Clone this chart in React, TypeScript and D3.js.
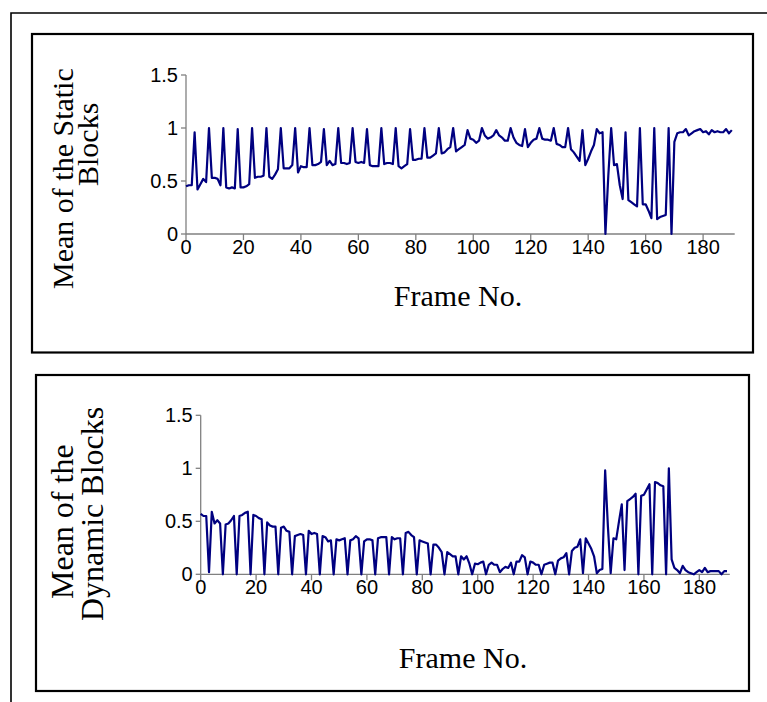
import React from "react";
import * as d3 from "d3";

const staticBlocks: number[] = [
  0.45, 0.46, 0.46, 0.96, 0.42, 0.47, 0.52, 0.49, 1.0,
  0.53, 0.53, 0.52, 0.46, 1.0,
  0.44, 0.43, 0.44, 0.43, 0.99,
  0.44, 0.44, 0.45, 0.47, 1.0,
  0.53, 0.54, 0.54, 0.55, 1.0,
  0.54, 0.52, 0.56, 0.61, 1.0,
  0.62, 0.62, 0.62, 0.65, 1.0,
  0.58, 0.64, 0.63, 0.63, 1.0,
  0.65, 0.65, 0.66, 0.68, 0.99,
  0.65, 0.69, 0.65, 0.66, 1.0,
  0.67, 0.67, 0.66, 0.67, 1.0,
  0.68, 0.67, 0.68, 0.67, 0.99,
  0.65, 0.64, 0.64, 0.64, 1.0,
  0.66, 0.67, 0.67, 0.66, 1.0,
  0.64, 0.62, 0.64, 0.66, 0.99,
  0.70, 0.70, 0.71, 0.71, 1.0,
  0.72, 0.72, 0.74, 0.76, 1.0,
  0.76, 0.77, 0.80, 0.82, 1.0,
  0.78, 0.80, 0.82, 0.84, 0.98,
  0.90, 0.89, 0.86, 0.88, 1.0,
  0.93, 0.90, 0.91, 0.93, 0.98,
  0.93, 0.91, 0.88, 0.88, 1.0,
  0.91, 0.86, 0.84, 0.83, 0.99,
  0.82, 0.86, 0.89, 0.90, 1.0,
  0.90, 0.89, 0.89, 0.88, 1.0,
  0.85, 0.84, 0.82, 0.82, 1.0,
  0.80, 0.77, 0.73, 0.69, 0.98,
  0.65, 0.71, 0.78, 0.84, 0.99,
  0.95, 0.96, 0.0, 0.55, 1.0,
  0.65, 0.66, 0.46, 0.33, 0.96,
  0.32, 0.30, 0.28, 0.26, 1.0,
  0.28, 0.28, 0.22, 0.15, 1.0,
  0.14, 0.16, 0.17, 0.18, 1.0,
  0.0, 0.87, 0.95, 0.96, 0.96, 0.99, 0.93, 0.95, 0.97, 0.98,
  0.99, 0.96, 0.97, 0.94, 0.98, 0.96, 0.97, 0.96, 0.96, 0.99,
  0.95, 0.98,
];

const dynamicBlocks: number[] = [
  0.57, 0.55, 0.55, 0.02, 0.59, 0.48, 0.51, 0.48, 0.0,
  0.47, 0.48, 0.51, 0.55, 0.0,
  0.55, 0.56, 0.58, 0.59, 0.0,
  0.56, 0.55, 0.53, 0.52, 0.0,
  0.49, 0.46, 0.45, 0.45, 0.0,
  0.44, 0.45, 0.41, 0.40, 0.0,
  0.36, 0.37, 0.38, 0.37, 0.0,
  0.41, 0.38, 0.39, 0.38, 0.0,
  0.36, 0.35, 0.31, 0.32, 0.0,
  0.33, 0.32, 0.33, 0.34, 0.0,
  0.32, 0.33, 0.36, 0.34, 0.0,
  0.31, 0.33, 0.33, 0.32, 0.0,
  0.34, 0.35, 0.35, 0.35, 0.0,
  0.35, 0.33, 0.34, 0.34, 0.0,
  0.39, 0.40, 0.37, 0.35, 0.0,
  0.32, 0.31, 0.30, 0.29, 0.0,
  0.28, 0.28, 0.25, 0.21, 0.0,
  0.21, 0.19, 0.17, 0.17, 0.0,
  0.17, 0.14, 0.17, 0.10, 0.0,
  0.10, 0.095, 0.11, 0.12, 0.0,
  0.09, 0.11, 0.09, 0.09, 0.02,
  0.05, 0.07, 0.06, 0.11, 0.0,
  0.12, 0.12, 0.18, 0.16, 0.0,
  0.12, 0.11, 0.09, 0.09, 0.0,
  0.09, 0.10, 0.11, 0.11, 0.0,
  0.13, 0.15, 0.16, 0.20, 0.0,
  0.22, 0.25, 0.26, 0.33, 0.01,
  0.34, 0.29, 0.24, 0.17, 0.01,
  0.04, 0.05, 0.98, 0.45, 0.01,
  0.34, 0.33, 0.50, 0.66, 0.04,
  0.69, 0.71, 0.73, 0.76, 0.0,
  0.74, 0.75, 0.80, 0.85, 0.0,
  0.87, 0.86, 0.84, 0.83, 0.0,
  1.0, 0.14, 0.06, 0.04, 0.01, 0.08, 0.04, 0.02, 0.01, 0.0,
  0.02, 0.04, 0.02, 0.06, 0.02, 0.03, 0.03, 0.03, 0.03, 0.0,
  0.03, 0.03,
];

const xTicks: number[] = [0, 20, 40, 60, 80, 100, 120, 140, 160, 180];
const yTicks: number[] = [0, 0.5, 1, 1.5];
const yTickLabels: string[] = ["0", "0.5", "1", "1.5"];
const xTitle = "Frame No.";
const topTitleLines: string[] = ["Mean of the Static", "Blocks"];
const bottomTitleLines: string[] = ["Mean of the", "Dynamic Blocks"];

const LINE = "#000080";
const AXIS = "#808080";
const SERIF = "'Liberation Serif', 'Times New Roman', serif";
const SANS = "'Liberation Sans', Arial, sans-serif";

type PanelProps = {
  values: number[];
  x0: number;
  x1: number;
  y0: number;
  y1: number;
  titleLines: string[];
  titlePos: { x: number; y: number }[];
  titleSize: number;
  xTitleX: number;
  xTitleY: number;
  clipTop?: number;
  id: string;
};

function Panel({ values, x0, x1, y0, y1, titleLines, titlePos, titleSize, xTitleX, xTitleY, clipTop, id }: PanelProps) {
  const x = d3.scaleLinear().domain([0, 191]).range([x0, x1]);
  const y = d3.scaleLinear().domain([0, 1.5]).range([y0, y1]);
  const line = d3
    .line<number>()
    .x((_, i) => x(i))
    .y((d) => y(d));
  return (
    <g>
      {clipTop !== undefined && (
        <defs>
          <clipPath id={id}>
            <rect x={0} y={clipTop} width={767} height={702} />
          </clipPath>
        </defs>
      )}
      <line x1={x0} x2={x0} y1={y(0)} y2={y(1.5)} stroke={AXIS} strokeWidth={1.3} />
      <line x1={x0} x2={x1} y1={y(0)} y2={y(0)} stroke={AXIS} strokeWidth={1.3} />
      {yTicks.map((t, i) => (
        <g key={"y" + t}>
          <line x1={x0 - 5} x2={x0} y1={y(t)} y2={y(t)} stroke={AXIS} strokeWidth={1.3} />
          <text x={x0 - 8} y={y(t)} dy="0.35em" textAnchor="end" fontFamily={SANS} fontSize={20}>
            {yTickLabels[i]}
          </text>
        </g>
      ))}
      {xTicks.map((t) => (
        <g key={"x" + t}>
          <line x1={x(t)} x2={x(t)} y1={y(0)} y2={y(0) + 6} stroke={AXIS} strokeWidth={1.3} />
          <text x={x(t)} y={y(0) + 20} textAnchor="middle" fontFamily={SANS} fontSize={20}>
            {t}
          </text>
        </g>
      ))}
      <path d={line(values) || ""} fill="none" stroke={LINE} strokeWidth={2.2} strokeLinejoin="round" />
      <text x={xTitleX} y={xTitleY} textAnchor="middle" fontFamily={SERIF} fontSize={30}>
        {xTitle}
      </text>
      <g clipPath={clipTop !== undefined ? `url(#${id})` : undefined}>
        {titleLines.map((t, i) => (
          <text
            key={t}
            transform={`translate(${titlePos[i].x},${titlePos[i].y}) rotate(-90)`}
            textAnchor="start"
            fontFamily={SERIF}
            fontSize={titleSize}
          >
            {t}
          </text>
        ))}
      </g>
    </g>
  );
}

export default function App() {
  return (
    <svg
      width={767}
      height={702}
      style={{ position: "absolute", left: 0, top: 0, background: "#fff" }}
    >
      <rect x={0} y={0} width={767} height={702} fill="#fff" />
      <path d="M11,702 L11,13 L767,13" fill="none" stroke="#000" strokeWidth={1.6} />
      <rect x={32} y={34} width={721} height={318.5} fill="none" stroke="#000" strokeWidth={2.2} />
      <rect x={36} y={375} width={713} height={316} fill="none" stroke="#000" strokeWidth={2.2} />
      <Panel
        id="top"
        values={staticBlocks}
        x0={186}
        x1={734.7}
        y0={234}
        y1={75}
        titleLines={topTitleLines}
        titlePos={[
          { x: 73, y: 289 },
          { x: 98, y: 186 },
        ]}
        titleSize={30}
        xTitleX={458}
        xTitleY={306}
      />
      <Panel
        id="bottom"
        values={dynamicBlocks}
        x0={200.7}
        x1={729.8}
        y0={574.3}
        y1={415.3}
        titleLines={bottomTitleLines}
        titlePos={[
          { x: 73, y: 599 },
          { x: 103, y: 621 },
        ]}
        titleSize={32}
        xTitleX={463}
        xTitleY={668}
        clipTop={397}
      />
    </svg>
  );
}
